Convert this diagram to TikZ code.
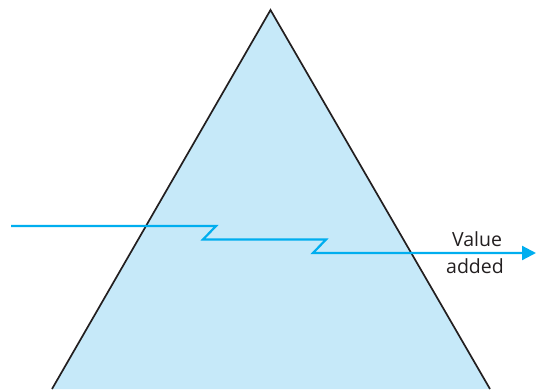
\documentclass[tikz,border=0pt]{standalone}
\usepackage{fontspec}
\setmainfont{Open Sans}
\usetikzlibrary{arrows.meta}
\definecolor{tri}{HTML}{C6E9F9}
\definecolor{flow}{HTML}{00AEEF}
\definecolor{edge}{HTML}{231F20}
\tikzset{
  flowline/.style={draw=flow, line width=2.2pt, line join=miter},
  label/.style={font=\fontsize{19.5}{24}\selectfont, text=edge, align=center, inner sep=0pt}
}
\begin{document}
\begin{tikzpicture}[x=1pt,y=-1pt]
\useasboundingbox (0,0) rectangle (536,389);
\coordinate (apex) at (270.5,10);
\coordinate (bl) at (52,389);
\coordinate (br) at (490,389);
\fill[tri] (bl) -- (apex) -- (br) -- cycle;
\draw[edge, line width=1.7pt, line join=miter] (bl) -- (apex) -- (br);
\coordinate (s) at (11,226);
\coordinate (a1) at (216,226);
\coordinate (a2) at (203,239.5);
\coordinate (b1) at (326,239.5);
\coordinate (b2) at (313,253);
\coordinate (e) at (536,253);
\draw[flowline, -{Triangle[length=14pt,width=14pt]}] (s) -- (a1) -- (a2) -- (b1) -- (b2) -- (e);
\node[label] (v) at (477,239) {Value};
\node[label] (ad) at (475,266) {added};
\end{tikzpicture}
\end{document}
